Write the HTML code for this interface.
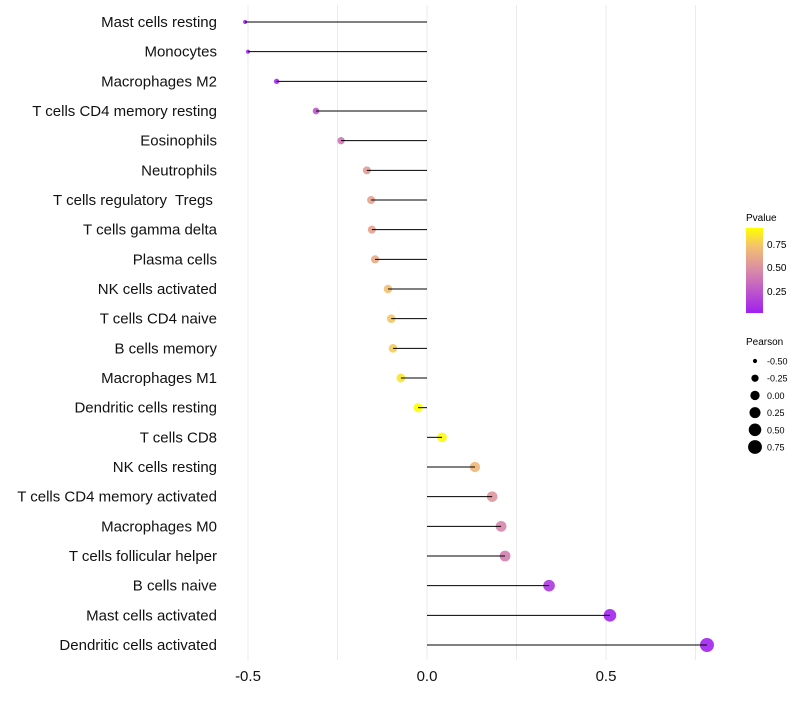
<!DOCTYPE html>
<html><head><meta charset="utf-8"><style>
body{margin:0;background:#fff;font-family:"Liberation Sans",sans-serif}
text{white-space:pre}
</style></head><body>
<svg id="chart" width="800" height="700" xmlns="http://www.w3.org/2000/svg">
<defs><linearGradient id="pg" x1="0" y1="1" x2="0" y2="0">
<stop offset="0" stop-color="#a020f0"/><stop offset="0.5" stop-color="#d98aa8"/><stop offset="0.78" stop-color="#f3c070"/><stop offset="1" stop-color="#ffff00"/>
</linearGradient></defs>
<g id="grid"></g><g id="marks"></g><g id="labels"></g>
<g font-size="10" fill="#000">
<text x="746" y="221" font-size="10">Pvalue</text>
<rect x="746" y="228" width="17" height="85" fill="url(#pg)"/>
<text x="767" y="248">0.75</text><text x="767" y="271">0.50</text><text x="767" y="295">0.25</text>
</g>
<g id="sizeleg" font-size="9"><text x="746" y="345" font-size="10">Pearson</text></g>
</svg>
<script>
const categories=["Mast cells resting","Monocytes","Macrophages M2","T cells CD4 memory resting","Eosinophils","Neutrophils","T cells regulatory  Tregs ","T cells gamma delta","Plasma cells","NK cells activated","T cells CD4 naive","B cells memory","Macrophages M1","Dendritic cells resting","T cells CD8","NK cells resting","T cells CD4 memory activated","Macrophages M0","T cells follicular helper","B cells naive","Mast cells activated","Dendritic cells activated"];
const pearson=[-0.508,-0.50,-0.42,-0.31,-0.24,-0.168,-0.156,-0.154,-0.145,-0.109,-0.10,-0.095,-0.073,-0.025,0.042,0.134,0.182,0.207,0.218,0.341,0.511,0.782];
const pvalue=[0.02,0.03,0.06,0.25,0.38,0.55,0.58,0.58,0.62,0.72,0.74,0.76,0.84,0.92,0.9,0.68,0.52,0.45,0.42,0.12,0.03,0.02];
const xTicks=[-0.5,0,0.5];
const xTickLabels=["-0.5","0.0","0.5"];
const sizeLegend=[-0.5,-0.25,0,0.25,0.5,0.75];
const sizeLegendLabels=["-0.50","-0.25","0.00","0.25","0.50","0.75"];
const NS="http://www.w3.org/2000/svg";
const x=v=>427+v*358;
const y=i=>22+i*(623/21);
const r=v=>Math.sqrt(Math.max(1,4+(v+0.51)*34.9));
function col(p){
 const t=Math.max(0,Math.min(1,(p-0.016)/0.904));
 const st=[[0,[160,32,240]],[0.5,[217,138,168]],[0.78,[243,192,112]],[1,[255,255,0]]];
 for(let k=1;k<st.length;k++){if(t<=st[k][0]){const a=st[k-1],b=st[k],u=(t-a[0])/(b[0]-a[0]);return "rgb("+a[1].map((c,j)=>Math.round(c+(b[1][j]-c)*u)).join(",")+")";}}
 return "rgb(255,255,0)";
}
function mk(tag,attrs,parent){const e=document.createElementNS(NS,tag);for(const k in attrs)e.setAttribute(k,attrs[k]);parent.appendChild(e);return e;}
const grid=document.getElementById('grid'),marks=document.getElementById('marks'),labels=document.getElementById('labels');
for(let v=-0.5;v<=0.76;v+=0.25){const g=mk('line',{x1:x(v),x2:x(v),y1:5,y2:660,stroke:"#ebebeb","stroke-width":1},grid);

}
xTicks.forEach((v,i)=>{const t=mk('text',{x:x(v),y:681,"text-anchor":"middle","font-size":"15",fill:"#111"},labels);t.textContent=xTickLabels[i];

});
categories.forEach((c,i)=>{
 const t=mk('text',{x:217,y:y(i)+5,"text-anchor":"end","font-size":"15",fill:"#111"},labels);t.textContent=c;
 
 
 const p=mk('circle',{cx:x(pearson[i]),cy:y(i),r:r(pearson[i]),fill:col(pvalue[i]),"fill-opacity":0.9},marks);
 
 
 const l=mk('line',{x1:x(0),x2:x(pearson[i]),y1:y(i),y2:y(i),stroke:"#000","stroke-width":1},marks);
 
 
});
const sl=document.getElementById('sizeleg');
sizeLegend.forEach((v,i)=>{const yy=361+i*17.2;
 const c=mk('circle',{cx:755,cy:yy,r:r(v),fill:"#000"},sl);
 
 
 const t=mk('text',{x:767,y:yy+3.5},sl);t.textContent=sizeLegendLabels[i];
 
 });
</script>
</body></html>
